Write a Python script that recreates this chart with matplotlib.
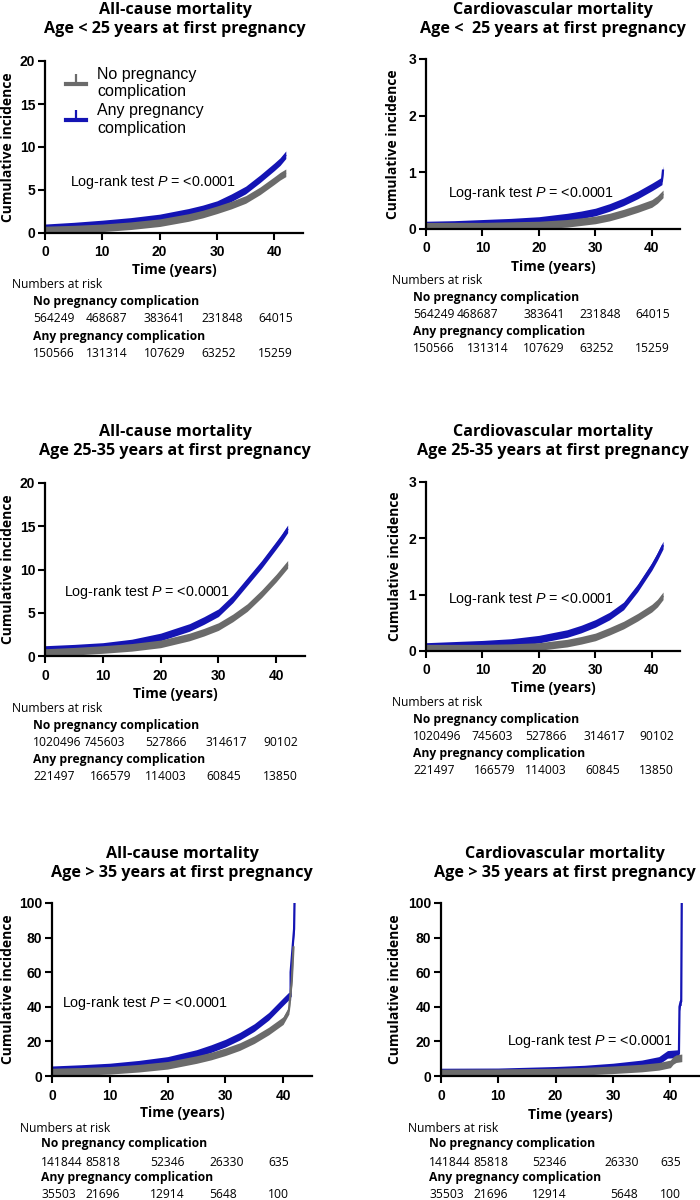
import numpy as np
import matplotlib
matplotlib.use("Agg")
import matplotlib.pyplot as plt
from matplotlib.lines import Line2D

# ---------------- data ----------------
x_ticks = [0, 10, 20, 30, 40]
group_labels = ["No pregnancy\ncomplication", "Any pregnancy\ncomplication"]
risk_header = "Numbers at risk"
risk_row_names = ["No pregnancy complication", "Any pregnancy complication"]
logrank_text = "Log-rank test $\\mathit{P}$ = <0.0001"

titles = [
    "All-cause mortality\nAge < 25 years at first pregnancy",
    "Cardiovascular mortality\nAge <  25 years at first pregnancy",
    "All-cause mortality\nAge 25-35 years at first pregnancy",
    "Cardiovascular mortality\nAge 25-35 years at first pregnancy",
    "All-cause mortality\nAge > 35 years at first pregnancy",
    "Cardiovascular mortality\nAge > 35 years at first pregnancy",
]

y_ticks_all = [0, 5, 10, 15, 20]
y_ticks_cv = [0, 1, 2, 3]
y_ticks_old = [0, 20, 40, 60, 80, 100]

t_std = [0, 5, 10, 15, 20, 25, 27.5, 30, 32.5, 35, 37.5, 40, 41, 42]

# Age < 25, all-cause
no_all_lt25 = [0.35, 0.45, 0.6, 0.85, 1.2, 1.8, 2.2, 2.7, 3.25, 3.9, 4.9, 6.1, 6.6, 7.0]
any_all_lt25 = [0.6, 0.8, 1.05, 1.35, 1.75, 2.4, 2.8, 3.3, 4.1, 5.0, 6.3, 7.7, 8.3, 9.1]
# Age < 25, cardiovascular
no_cv_lt25 = [0.05, 0.05, 0.05, 0.06, 0.07, 0.1, 0.13, 0.16, 0.21, 0.28, 0.36, 0.45, 0.52, 0.62]
t_any_cv_lt25 = [0, 5, 10, 15, 20, 25, 27.5, 30, 32.5, 35, 37.5, 40, 41, 41.8, 41.9, 42]
any_cv_lt25 = [0.07, 0.08, 0.1, 0.12, 0.15, 0.21, 0.25, 0.3, 0.38, 0.48, 0.6, 0.74, 0.8, 0.85, 0.95, 1.05]
# Age 25-35, all-cause
no_all_mid = [0.4, 0.55, 0.75, 1.0, 1.4, 2.2, 2.75, 3.4, 4.4, 5.6, 7.2, 9.0, 9.8, 10.6]
any_all_mid = [0.75, 0.9, 1.1, 1.5, 2.2, 3.3, 4.1, 5.0, 6.6, 8.6, 10.6, 12.8, 13.7, 14.7]
# Age 25-35, cardiovascular
no_cv_mid = [0.05, 0.05, 0.05, 0.06, 0.08, 0.14, 0.19, 0.25, 0.35, 0.46, 0.6, 0.76, 0.85, 0.98]
any_cv_mid = [0.08, 0.1, 0.12, 0.15, 0.21, 0.31, 0.39, 0.49, 0.62, 0.8, 1.12, 1.5, 1.68, 1.88]
# Age > 35, all-cause
t_no_all_old = [0, 5, 10, 15, 20, 25, 27.5, 30, 32.5, 35, 37.5, 40, 41, 41.5, 41.8]
no_all_old = [2.3, 2.7, 3.3, 4.5, 6.2, 9.5, 11.5, 14, 17, 21, 26, 32, 38, 55, 75]
t_any_all_old = [0, 5, 10, 15, 20, 25, 27.5, 30, 32.5, 35, 37.5, 40, 40.9, 41.3, 41.3, 41.9, 42.0]
any_all_old = [3.6, 4.3, 5.2, 6.8, 9, 13, 15.8, 19, 23, 28, 34.5, 43, 46, 46, 60, 85, 106]
# Age > 35, cardiovascular
t_no_cv_old = [0, 10, 20, 25, 30, 35, 38, 40, 40.5, 41, 42]
no_cv_old = [1.8, 1.9, 2.3, 2.8, 3.6, 4.6, 5.6, 7, 9, 10, 10.5]
t_any_cv_old = [0, 10, 20, 25, 30, 35, 38, 39.5, 41.5, 41.6, 41.8, 41.9, 42]
any_cv_old = [2.3, 2.4, 3.3, 4, 5.2, 7, 9, 12.5, 13, 40, 43, 43, 106]

# numbers at risk
risk_no_lt25 = ["564249", "468687", "383641", "231848", "64015"]
risk_any_lt25 = ["150566", "131314", "107629", "63252", "15259"]
risk_no_mid = ["1020496", "745603", "527866", "314617", "90102"]
risk_any_mid = ["221497", "166579", "114003", "60845", "13850"]
risk_no_old = ["141844", "85818", "52346", "26330", "635"]
risk_any_old = ["35503", "21696", "12914", "5648", "100"]

# ---------------- style / layout ----------------
W, H = 700, 1200
C_NO = "#6b6b6b"
C_ANY = "#1414b4"
TITLE_FONT = "Open Sans"
ARIAL = "Liberation Sans"

plt.rcParams["mathtext.fontset"] = "custom"
plt.rcParams["mathtext.rm"] = ARIAL
plt.rcParams["mathtext.it"] = ARIAL + ":italic"

panels = [
    dict(rect=(45, 303, 61, 233), ylim=(0, 20), yt=y_ticks_all, title_y=(8, 31), title_x=175,
         ylab_x=8, xlab_y=270, xlab_x=174, lr=(70, 182),
         no=(t_std, no_all_lt25), any=(t_std, any_all_lt25),
         risk=(risk_no_lt25, risk_any_lt25), rx=12, rx2=33, ry=(285, 302, 319, 337, 354),
         cols1=[33, 86, 144, 201, 258], cols2=[33, 86, 144, 201, 258], legend=True),
    dict(rect=(426, 680, 59, 229), ylim=(0, 3), yt=y_ticks_cv, title_y=(8, 31), title_x=553,
         ylab_x=393, xlab_y=267, xlab_x=553, lr=(448, 193),
         no=(t_std, no_cv_lt25), any=(t_any_cv_lt25, any_cv_lt25),
         risk=(risk_no_lt25, risk_any_lt25), rx=392, rx2=413, ry=(281, 297, 314, 332, 349),
         cols1=[413, 457, 523, 579, 635], cols2=[413, 467, 523, 579, 635], legend=False),
    dict(rect=(45, 305, 483, 656), ylim=(0, 20), yt=y_ticks_all, title_y=(430, 453), title_x=175,
         ylab_x=8, xlab_y=694, xlab_x=175, lr=(64, 592),
         no=(t_std, no_all_mid), any=(t_std, any_all_mid),
         risk=(risk_no_mid, risk_any_mid), rx=12, rx2=33, ry=(708, 725, 743, 760, 777),
         cols1=[33, 83, 145, 205, 263], cols2=[33, 90, 145, 206, 263], legend=False),
    dict(rect=(426, 680, 482, 651), ylim=(0, 3), yt=y_ticks_cv, title_y=(430, 453), title_x=553,
         ylab_x=395, xlab_y=688, xlab_x=553, lr=(448, 599),
         no=(t_std, no_cv_mid), any=(t_std, any_cv_mid),
         risk=(risk_no_mid, risk_any_mid), rx=392, rx2=413, ry=(703, 719, 737, 753, 771),
         cols1=[413, 471, 525, 583, 639], cols2=[413, 474, 525, 585, 639], legend=False),
    dict(rect=(52, 312, 903, 1076), ylim=(0, 100), yt=y_ticks_old, title_y=(852, 875), title_x=182,
         ylab_x=8, xlab_y=1113, xlab_x=182, lr=(62, 1003),
         no=(t_no_all_old, no_all_old), any=(t_any_all_old, any_all_old),
         risk=(risk_no_old, risk_any_old), rx=20, rx2=41, ry=(1128, 1144, 1162, 1178, 1195),
         cols1=[41, 85, 150, 209, 268], cols2=[41, 85, 150, 209, 268], legend=False),
    dict(rect=(441, 699, 903, 1076), ylim=(0, 100), yt=y_ticks_old, title_y=(852, 875), title_x=565,
         ylab_x=395, xlab_y=1115, xlab_x=570, lr=(507, 1041),
         no=(t_no_cv_old, no_cv_old), any=(t_any_cv_old, any_cv_old),
         risk=(risk_no_old, risk_any_old), rx=408, rx2=429, ry=(1128, 1144, 1162, 1178, 1195),
         cols1=[429, 473, 532, 604, 660], cols2=[429, 473, 532, 610, 660], legend=False),
]


def fx(px):
    return px / W


def fy(py):
    return 1 - py / H


fig = plt.figure(figsize=(7, 12), dpi=100)

BAND_PX = 3.8  # half thickness of censor-mark band, pixels
RISK_FS = 8.7
RISK_HEAD_FS = 8.7

for i, p in enumerate(panels):
    l, r, t, b = p["rect"]
    ax = fig.add_axes([fx(l), fy(b), (r - l) / W, (b - t) / H])
    ax.set_xlim(0, 45)
    ax.set_ylim(*p["ylim"])
    ax.set_xticks(x_ticks)
    ax.set_yticks(p["yt"])
    for s in ("top", "right"):
        ax.spines[s].set_visible(False)
    for s in ("left", "bottom"):
        ax.spines[s].set_linewidth(1.6)
    ax.tick_params(length=5, width=1.5, labelsize=10, pad=2)
    ax.tick_params(axis="x", pad=4)
    for lab in ax.get_xticklabels() + ax.get_yticklabels():
        lab.set_fontweight("bold")
        lab.set_family(ARIAL)

    h = BAND_PX * (p["ylim"][1] - p["ylim"][0]) / (b - t)
    for (tt, vv), col in ((p["any"], C_ANY), (p["no"], C_NO)):
        tt = np.asarray(tt, float)
        vv = np.asarray(vv, float)
        ax.fill_between(tt, vv - h, vv + h, color=col, lw=0, zorder=2)
        ax.plot(tt, vv, color=col, lw=1.6, zorder=2, solid_capstyle="butt")

    # axis labels
    ax.set_ylabel("Cumulative incidence", fontsize=10, fontweight="bold",
                  family=TITLE_FONT, va="center")
    ax.yaxis.set_label_coords(fx(p["ylab_x"]), fy((t + b) / 2), transform=fig.transFigure)
    ax.set_xlabel("Time (years)", fontsize=10, fontweight="bold", family=TITLE_FONT, va="center")
    ax.xaxis.set_label_coords(fx(p["xlab_x"]), fy(p["xlab_y"]), transform=fig.transFigure)

    # title
    ty = (p["title_y"][0] + p["title_y"][1]) / 2
    fig.text(fx(p["title_x"]), fy(ty), titles[i], ha="center", va="center",
             fontsize=11.6, fontweight="bold", family=TITLE_FONT, linespacing=1.3)

    # log-rank
    fig.text(fx(p["lr"][0]), fy(p["lr"][1]), logrank_text, ha="left", va="center",
             fontsize=10.3, family=ARIAL)

    # numbers at risk
    ry = p["ry"]
    fig.text(fx(p["rx"]), fy(ry[0]), risk_header, ha="left", va="center",
             fontsize=RISK_HEAD_FS, family=TITLE_FONT)
    fig.text(fx(p["rx2"]), fy(ry[1]), risk_row_names[0], ha="left", va="center",
             fontsize=RISK_HEAD_FS, fontweight="bold", family=TITLE_FONT)
    for xv, s in zip(p["cols1"], p["risk"][0]):
        fig.text(fx(xv), fy(ry[2]), s, ha="left", va="center", fontsize=RISK_FS, family=TITLE_FONT)
    fig.text(fx(p["rx2"]), fy(ry[3]), risk_row_names[1], ha="left", va="center",
             fontsize=RISK_HEAD_FS, fontweight="bold", family=TITLE_FONT)
    for xv, s in zip(p["cols2"], p["risk"][1]):
        fig.text(fx(xv), fy(ry[4]), s, ha="left", va="center", fontsize=RISK_FS, family=TITLE_FONT)

    if p["legend"]:
        handles = [Line2D([], [], color=C_NO, lw=3, marker=2, markersize=7, mew=1.6),
                   Line2D([], [], color=C_ANY, lw=3, marker=2, markersize=7, mew=1.6)]
        ax.legend(handles, group_labels, loc="upper left",
                  bbox_to_anchor=(fx(66), fy(67)), bbox_transform=fig.transFigure,
                  frameon=False, borderpad=0, borderaxespad=0, handlelength=1.25,
                  handletextpad=0.7, labelspacing=0.25, numpoints=1,
                  prop=dict(family=ARIAL, size=11.5))

fig.savefig("out.png", dpi=100)
